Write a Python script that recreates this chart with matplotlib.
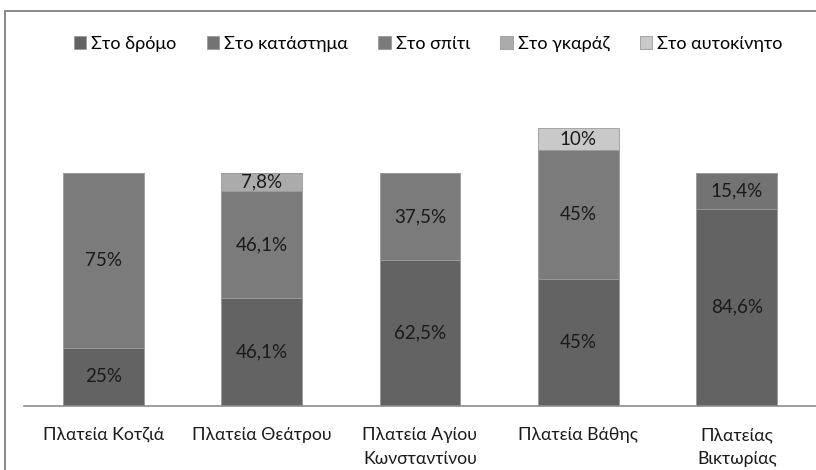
import matplotlib.pyplot as plt
from matplotlib.patches import Rectangle

# --- dados ---
categorias = ["Πλατεία Κοτζιά", "Πλατεία Θεάτρου", "Πλατεία Αγίου\nΚωνσταντίνου",
              "Πλατεία Βάθης", "Πλατείας\nΒικτωρίας"]
series = ["Στο δρόμο", "Στο κατάστημα", "Στο σπίτι", "Στο γκαράζ", "Στο αυτοκίνητο"]
cores = ["#636363", "#737373", "#7b7b7b", "#ababab", "#c9c9c9"]

# alturas desenhadas e rótulos mostrados
dromos = [25, 46.1, 62.5, 54.6, 84.6]
katastima = [0, 0, 0, 0, 15.4]
spiti = [75, 46.1, 37.5, 55.0, 0]
garaz = [0, 7.8, 0, 0, 0]
aftokinito = [0, 0, 0, 9.4, 0]

rot_dromos = ["25%", "46,1%", "62,5%", "45%", "84,6%"]
rot_katastima = ["", "", "", "", "15,4%"]
rot_spiti = ["75%", "46,1%", "37,5%", "45%", ""]
rot_garaz = ["", "7,8%", "", "", ""]
rot_aftokinito = ["", "", "", "10%", ""]

valores = [dromos, katastima, spiti, garaz, aftokinito]
rotulos = [rot_dromos, rot_katastima, rot_spiti, rot_garaz, rot_aftokinito]

plt.rcParams["font.family"] = ["Lato", "Noto Sans", "DejaVu Sans"]

fig = plt.figure(figsize=(8.16, 4.70), dpi=100)
ax = fig.add_axes([24 / 816, 64 / 470, 792 / 816, 306 / 470])

x = list(range(len(categorias)))
base = [0] * len(categorias)
for nome, vals, cor, rots in zip(series, valores, cores, rotulos):
    ax.bar(x, vals, width=0.51, bottom=base, color=cor, label=nome,
           edgecolor="#9a9a9a", linewidth=0.6)
    for i, (v, r) in enumerate(zip(vals, rots)):
        if v > 0 and r:
            ax.text(x[i], base[i] + v / 2, r, ha="center", va="center",
                    fontsize=13.5, color="#1a1a1a")
    base = [b + v for b, v in zip(base, vals)]

ax.set_xlim(-0.5, len(categorias) - 0.5)
ax.set_ylim(0, 306 / 2.333)
ax.set_xticks(x)
ax.set_xticklabels(categorias, fontsize=12.7, linespacing=1.65, color="#1a1a1a")
ax.tick_params(axis="x", length=0, pad=15)
ax.set_yticks([])
for s in ["left", "right", "top"]:
    ax.spines[s].set_visible(False)
ax.spines["bottom"].set_color("#8c8c8c")
ax.spines["bottom"].set_linewidth(1.2)

fig.legend(loc="center", bbox_to_anchor=(428 / 816, 1 - 44 / 470), ncol=5,
           frameon=False, fontsize=13, handlelength=0.7, handleheight=0.7,
           handletextpad=0.25, columnspacing=1.7)

# moldura da figura
fig.patches.append(Rectangle((5 / 816, -0.1), 1.2, (470 - 11) / 470 + 0.1,
                             transform=fig.transFigure, fill=False,
                             edgecolor="#7f7f7f", linewidth=1.3))

fig.savefig("out.png", dpi=100)
